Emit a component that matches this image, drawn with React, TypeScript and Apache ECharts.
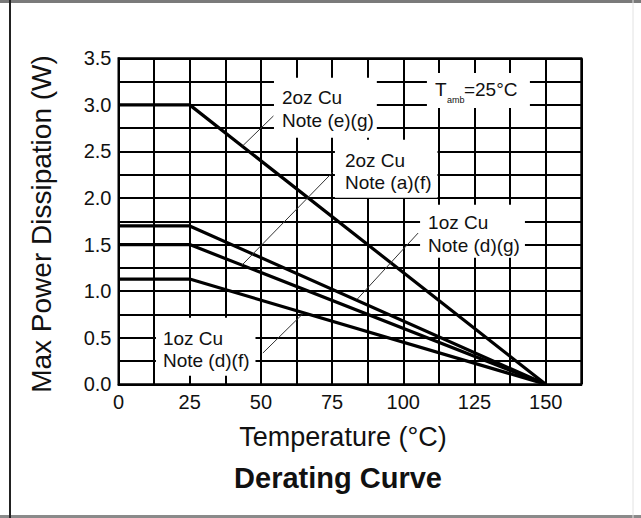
import React, { useEffect, useRef } from "react";
import * as echarts from "echarts";

// ---- data ----
const temperatures = [0, 25, 150];
const curve2ozEG = [3.0, 3.0, 0];
const curve1ozDG = [1.7, 1.7, 0];
const curve2ozAF = [1.5, 1.5, 0];
const curve1ozDF = [1.13, 1.13, 0];
const curveNames = ["2oz Cu Note (e)(g)", "1oz Cu Note (d)(g)", "2oz Cu Note (a)(f)", "1oz Cu Note (d)(f)"];
const xTickLabels = [0, 25, 50, 75, 100, 125, 150];
const yTickLabels = [0, 0.5, 1.0, 1.5, 2.0, 2.5, 3.0, 3.5];

// annotation texts (anchors in data coordinates: left edge, first line centre)
const noteTexts = [
  ["2oz Cu", "Note (e)(g)"],
  ["2oz Cu", "Note (a)(f)"],
  ["1oz Cu", "Note (d)(g)"],
  ["1oz Cu", "Note (d)(f)"],
];
const noteAnchors = [
  [57.4, 3.074],
  [79.5, 2.408],
  [108.7, 1.732],
  [15.6, 0.497],
];
// padding [top, right, bottom, left] of white boxes
const notePads = [
  [9, 3, 6, 8],
  [9, 6, 4, 10],
  [7, 5, 1, 8],
  [9, 6, 4, 7],
];
// leader lines in data coordinates [from, to]
const leaders = [
  [[43.6, 2.56], [54.4, 2.881]],
  [[43.4, 1.281], [75.3, 2.28]],
  [[83.7, 0.91], [105.2, 1.624]],
  [[64.8, 0.76], [50.7, 0.336]],
];
const tambAnchor = [111.1, 3.17];

const FONT = "'Liberation Sans', Arial, Helvetica, sans-serif";

export default function App() {
  const ref = useRef<HTMLDivElement>(null);
  useEffect(() => {
    document.body.style.margin = "0";
    const el = ref.current!;
    const chart = echarts.init(el, null, { renderer: "svg" });
    const mk = (vals: number[]) => temperatures.map((t, i) => [t, vals[i]]);
    const allCurves = [curve2ozEG, curve1ozDG, curve2ozAF, curve1ozDF];
    chart.setOption({
      animation: false,
      backgroundColor: "#fff",
      grid: {
        left: 118.5,
        top: 58.3,
        right: 641 - 581.3,
        bottom: 518 - 384.3,
        show: true,
        borderColor: "#000",
        borderWidth: 2,
      },
      xAxis: {
        type: "value",
        min: 0,
        max: 162.5,
        interval: 12.5,
        axisLine: { show: true, lineStyle: { color: "#000", width: 2 } },
        axisTick: { show: false },
        splitLine: { show: true, lineStyle: { color: "#000", width: 2 } },
        axisLabel: {
          margin: 8,
          color: "#111",
          fontSize: 20,
          fontFamily: FONT,
          formatter: (v: number) => (xTickLabels.indexOf(v) >= 0 ? String(v) : ""),
        },
      },
      yAxis: {
        type: "value",
        min: 0,
        max: 3.5,
        interval: 0.25,
        axisLine: { show: true, lineStyle: { color: "#000", width: 2 } },
        axisTick: { show: false },
        splitLine: { show: true, lineStyle: { color: "#000", width: 2 } },
        axisLabel: {
          margin: 7,
          color: "#111",
          fontSize: 20,
          fontFamily: FONT,
          formatter: (v: number) =>
            yTickLabels.some((t) => Math.abs(t - v) < 1e-6) ? v.toFixed(1) : "",
        },
      },
      series: allCurves.map((c, i) => ({
        name: curveNames[i],
        type: "line",
        data: mk(c),
        symbol: "none",
        z: 3,
        lineStyle: { color: "#000", width: 3.2 },
      })),
    });

    const px = (p: number[]) => chart.convertToPixel({ gridIndex: 0 }, p) as number[];
    const graphics: any[] = [];
    // frame
    graphics.push(
      { type: "line", shape: { x1: 0, y1: 1.5, x2: 641, y2: 1.5 }, style: { stroke: "#7a7a7a", lineWidth: 3 }, z: 10 },
      { type: "line", shape: { x1: 0, y1: 516.5, x2: 641, y2: 516.5 }, style: { stroke: "#8a8a8a", lineWidth: 3 }, z: 10 },
      { type: "line", shape: { x1: 10, y1: 0, x2: 10, y2: 518 }, style: { stroke: "#222", lineWidth: 2 }, z: 10 },
      { type: "line", shape: { x1: 633, y1: 0, x2: 633, y2: 518 }, style: { stroke: "#e2e2e2", lineWidth: 1 }, z: 10 }
    );
    // notes
    noteTexts.forEach((lines, i) => {
      const [x, y] = px(noteAnchors[i]);
      const lh = 22.5;
      const pad = notePads[i];
      graphics.push({
        type: "text",
        x: x - pad[3],
        y: y - lh / 2 - pad[0],
        z: 5,
        style: {
          text: lines.join("\n"),
          font: `19px ${FONT}`,
          fill: "#111",
          lineHeight: lh,
          align: "left",
          verticalAlign: "top",
          backgroundColor: "#fff",
          padding: pad,
        },
      });
    });
    // T amb
    {
      const [x, y] = px(tambAnchor);
      graphics.push(
        { type: "rect", shape: { x: x - 8, y: y - 16, width: 103, height: 35 }, style: { fill: "#fff" }, z: 5 },
        { type: "text", x: x, y: y, z: 6, style: { text: "T", font: `19px ${FONT}`, fill: "#111", align: "left", verticalAlign: "middle" } },
        { type: "text", x: x + 12, y: y + 11, z: 6, style: { text: "amb", font: `9px ${FONT}`, fill: "#111", align: "left", verticalAlign: "middle" } },
        { type: "text", x: x + 29, y: y, z: 6, style: { text: "=25°C", font: `19px ${FONT}`, fill: "#111", align: "left", verticalAlign: "middle" } }
      );
    }
    // leaders
    leaders.forEach((l) => {
      const a = px(l[0]);
      const b = px(l[1]);
      graphics.push({
        type: "line",
        z: 7,
        shape: { x1: a[0], y1: a[1], x2: b[0], y2: b[1] },
        style: { stroke: "#333", lineWidth: 1 },
      });
    });
    // axis titles
    graphics.push(
      {
        type: "text",
        x: 41,
        y: 224,
        rotation: Math.PI / 2,
        z: 6,
        style: { text: "Max Power Dissipation (W)", font: `28px ${FONT}`, fill: "#111", align: "center", verticalAlign: "middle" },
      },
      {
        type: "text",
        x: 343,
        y: 437,
        z: 6,
        style: { text: "Temperature (°C)", font: `27px ${FONT}`, fill: "#111", align: "center", verticalAlign: "middle" },
      },
      {
        type: "text",
        x: 338,
        y: 478,
        z: 6,
        style: { text: "Derating Curve", font: `bold 29px ${FONT}`, fill: "#111", align: "center", verticalAlign: "middle" },
      }
    );
    chart.setOption({ graphic: graphics });
    return () => chart.dispose();
  }, []);
  return <div ref={ref} style={{ width: 641, height: 518 }} />;
}
